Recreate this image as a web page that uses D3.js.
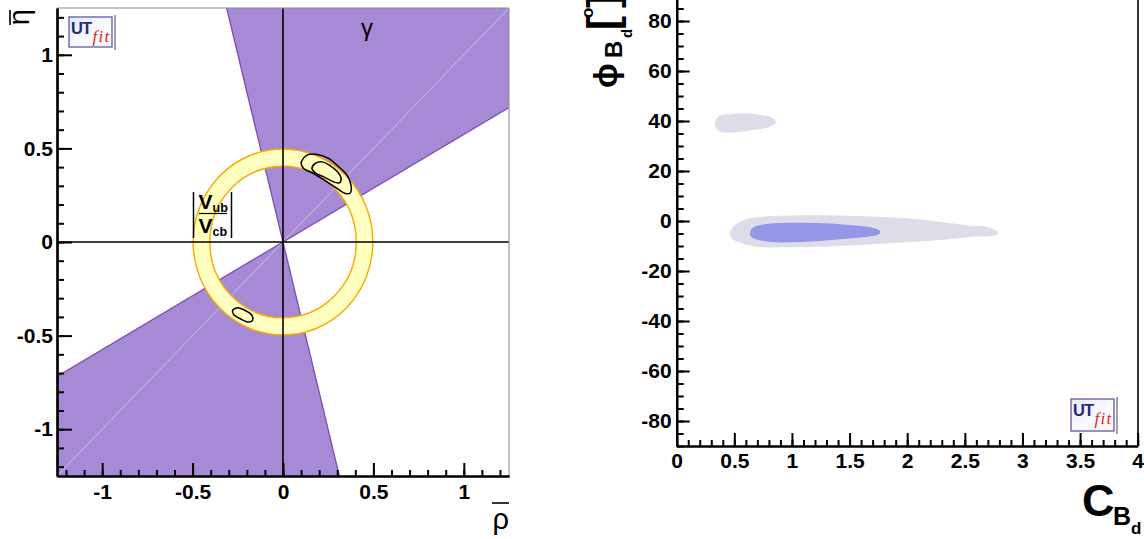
<!DOCTYPE html>
<html><head><meta charset="utf-8">
<script src="https://cdn.jsdelivr.net/npm/d3@7"></script>
<style>
body{margin:0;background:#fff}
svg{display:block}
text{font-family:"Liberation Sans",Arial,sans-serif}
</style>
</head><body>
<svg id="c" width="1144" height="539"></svg>
<script>
// ================= DATA =================
// Left panel: (rho-bar, eta-bar) plane
const utMajorTicks = [-1, -0.5, 0, 0.5, 1];
const utTickLabels = ["-1", "-0.5", "0", "0.5", "1"];
const utMinorTicks = [-12,-11,-10,-9,-8,-7,-6,-5,-4,-3,-2,-1,0,1,2,3,4,5,6,7,8,9,10,11,12].map(d => d / 10);
const gammaBandDeg = [29.9, 104.0];          // gamma constraint band (angles in degrees)
const vubVcbRing = [0.405, 0.497];           // |Vub/Vcb| ring radii
const fitContourOuter = [[0.100,0.423],[0.133,0.464],[0.188,0.468],[0.252,0.447],[0.308,0.402],[0.354,0.357],[0.376,0.304],[0.372,0.262],[0.345,0.259],[0.299,0.286],[0.243,0.321],[0.169,0.366],[0.114,0.393]];
const fitContourInner = [[0.160,0.393],[0.179,0.420],[0.216,0.428],[0.262,0.407],[0.302,0.375],[0.321,0.340],[0.313,0.316],[0.280,0.321],[0.225,0.348],[0.179,0.370]];
const fitContourLower = [[-0.279,-0.366],[-0.254,-0.352],[-0.209,-0.366],[-0.171,-0.393],[-0.168,-0.419],[-0.190,-0.428],[-0.236,-0.410],[-0.273,-0.387]];

// Right panel: (C_Bd, phi_Bd)
const cMajorTicks = [0, 0.5, 1, 1.5, 2, 2.5, 3, 3.5, 4];
const cTickLabels = ["0", "0.5", "1", "1.5", "2", "2.5", "3", "3.5", "4"];
const cMinorTicks = d3.range(0, 41).map(d => d / 10);
const phiMajorTicks = [-80, -60, -40, -20, 0, 20, 40, 60, 80];
const phiTickLabels = ["-80", "-60", "-40", "-20", "0", "20", "40", "60", "80"];
const phiMinorTicks = d3.range(-18, 19).map(d => d * 5);
const phi95Upper = [[0.332,39.1],[0.361,41.7],[0.462,42.8],[0.578,43.1],[0.694,42.7],[0.810,41.7],[0.862,39.7],[0.838,38.4],[0.766,37.1],[0.665,36.4],[0.549,35.7],[0.434,35.3],[0.361,36.1],[0.335,37.7]];
const phi95Lower = [[0.462,-4.9],[0.491,-2.3],[0.578,0.4],[0.752,1.7],[1.128,2.3],[1.562,2.0],[1.996,1.1],[2.285,-0.3],[2.574,-2.0],[2.660,-2.0],[2.762,-3.6],[2.791,-4.9],[2.748,-5.9],[2.574,-6.3],[2.285,-7.6],[1.851,-8.9],[1.417,-10.0],[0.983,-10.5],[0.694,-10.3],[0.549,-8.7],[0.477,-6.9]];
const phi68 = [[0.636,-4.7],[0.665,-2.5],[0.781,-1.2],[0.983,-0.7],[1.272,-0.9],[1.504,-1.6],[1.677,-2.5],[1.764,-3.9],[1.758,-5.2],[1.649,-6.3],[1.417,-7.3],[1.128,-8.3],[0.868,-8.5],[0.708,-7.6],[0.645,-6.3]];

// ================= DRAW =================
const svg = d3.select("#c");
const bold = "bold";

// ---------- left panel ----------
const xL = d3.scaleLinear().domain([-1.25, 1.25]).range([57, 509]);
const yL = d3.scaleLinear().domain([-1.25, 1.25]).range([476, 8]);
const L = svg.append("g");
L.append("clipPath").attr("id", "clipL").append("rect")
  .attr("x", 57).attr("y", 8).attr("width", 452).attr("height", 468);
const plotL = L.append("g").attr("clip-path", "url(#clipL)");

// gamma wedges
const R = 6;
function wedge(a1, a2) {
  const pts = [[0, 0]];
  for (let k = 0; k <= 8; k++) {
    const a = (a1 + (a2 - a1) * k / 8) * Math.PI / 180;
    pts.push([R * Math.cos(a), R * Math.sin(a)]);
  }
  return pts;
}
const lineL = d3.line().x(d => xL(d[0])).y(d => yL(d[1]));
[0, 180].forEach(off => {
  plotL.append("path").attr("d", lineL(wedge(gammaBandDeg[0] + off, gammaBandDeg[1] + off)) + "Z")
    .attr("fill", "#a68ad6");
});
// diagonal light line
plotL.append("path").attr("d", lineL([[-1.25, -1.25], [1.25, 1.25]]))
  .attr("stroke", "rgba(255,255,255,0.45)").attr("stroke-width", 1).attr("fill", "none");
// band boundaries
gammaBandDeg.forEach(a => {
  const r = a * Math.PI / 180;
  plotL.append("path").attr("d", lineL([[-R * Math.cos(r), -R * Math.sin(r)], [R * Math.cos(r), R * Math.sin(r)]]))
    .attr("stroke", "#7d4db5").attr("stroke-width", 1.3).attr("fill", "none");
});
// |Vub/Vcb| ring
function ellipsePath(r) {
  const cx = xL(0), cy = yL(0), rx = xL(r) - xL(0), ry = yL(0) - yL(r);
  return `M${cx + rx},${cy}A${rx},${ry} 0 1 0 ${cx - rx},${cy}A${rx},${ry} 0 1 0 ${cx + rx},${cy}Z`;
}
plotL.append("path").attr("d", ellipsePath(vubVcbRing[1]) + ellipsePath(vubVcbRing[0]))
  .attr("fill", "#ffffc0").attr("fill-rule", "evenodd")
  .attr("stroke", "#f8a800").attr("stroke-width", 1.4);
// zero lines
plotL.append("path").attr("d", lineL([[0, -1.25], [0, 1.25]])).attr("stroke", "#000").attr("stroke-width", 1.6);
plotL.append("path").attr("d", lineL([[-1.25, 0], [1.25, 0]])).attr("stroke", "#000").attr("stroke-width", 1.6);
// fit contours
const contourL = d3.line().x(d => xL(d[0])).y(d => yL(d[1])).curve(d3.curveCatmullRomClosed.alpha(0.5));
[fitContourOuter, fitContourInner, fitContourLower].forEach(c => {
  plotL.append("path").attr("d", contourL(c)).attr("fill", "none")
    .attr("stroke", "#000").attr("stroke-width", 1.5);
});
// frame (top/right thin grey)
L.append("path").attr("d", `M57,8H509V476`).attr("fill", "none").attr("stroke", "#8a8a8a").attr("stroke-width", 1);

// axes
function styleAxis(g) {
  g.select(".domain").attr("stroke", "#000").attr("stroke-width", 2.2);
  g.selectAll(".tick line").attr("stroke", "#000").attr("stroke-width", 2);
  g.selectAll("text").attr("font-size", 21).attr("font-weight", bold).attr("fill", "#000")
    .attr("font-family", "'Liberation Sans',Arial,sans-serif");
}
const gxLmin = L.append("g").attr("transform", "translate(0,476)")
  .call(d3.axisBottom(xL).tickValues(utMinorTicks).tickSize(-6).tickSizeOuter(0).tickFormat(""));
styleAxis(gxLmin);
const gxL = L.append("g").attr("transform", "translate(0,476)")
  .call(d3.axisBottom(xL).tickValues(utMajorTicks).tickSize(-13).tickSizeOuter(0).tickPadding(8)
    .tickFormat((d, i) => utTickLabels[i]));
styleAxis(gxL);
const gyLmin = L.append("g").attr("transform", "translate(57,0)")
  .call(d3.axisLeft(yL).tickValues(utMinorTicks).tickSize(-7).tickSizeOuter(0).tickFormat(""));
styleAxis(gyLmin);
const gyL = L.append("g").attr("transform", "translate(57,0)")
  .call(d3.axisLeft(yL).tickValues(utMajorTicks).tickSize(-15).tickSizeOuter(0).tickPadding(4)
    .tickFormat((d, i) => utTickLabels[i]));
styleAxis(gyL);

// axis titles
L.append("text").attr("transform", "translate(29,9) rotate(-90)").attr("text-anchor", "end")
  .attr("font-size", 29).text("η");
L.append("line").attr("x1", 10).attr("x2", 10).attr("y1", 10).attr("y2", 25).attr("stroke", "#000").attr("stroke-width", 1.6);
L.append("text").attr("x", 509).attr("y", 529).attr("text-anchor", "end").attr("font-size", 29).text("ρ");
L.append("line").attr("x1", 492).attr("x2", 509).attr("y1", 503).attr("y2", 503).attr("stroke", "#000").attr("stroke-width", 1.6);

// gamma label
L.append("text").attr("x", 361).attr("y", 36).attr("font-family", "'DejaVu Serif',serif").attr("font-size", 24).text("γ");
// |Vub/Vcb| label
const vl = L.append("g");
vl.append("line").attr("x1", 193.5).attr("x2", 193.5).attr("y1", 192).attr("y2", 238).attr("stroke", "#000").attr("stroke-width", 1.5);
vl.append("line").attr("x1", 231.5).attr("x2", 231.5).attr("y1", 192).attr("y2", 238).attr("stroke", "#000").attr("stroke-width", 1.5);
vl.append("line").attr("x1", 199).attr("x2", 227).attr("y1", 213.5).attr("y2", 213.5).attr("stroke", "#000").attr("stroke-width", 1.2);
vl.append("text").attr("x", 198.5).attr("y", 209).attr("font-size", 21).attr("font-weight", bold).text("V");
vl.append("text").attr("x", 212.5).attr("y", 212).attr("font-size", 12.5).attr("font-weight", bold).text("ub");
vl.append("text").attr("x", 198.5).attr("y", 232.5).attr("font-size", 21).attr("font-weight", bold).text("V");
vl.append("text").attr("x", 212.5).attr("y", 236).attr("font-size", 12.5).attr("font-weight", bold).text("cb");

// logo
function logo(g, x, y, w, h) {
  const lg = g.append("g");
  const gid = "lg" + Math.round(x);
  const grad = g.append("linearGradient").attr("id", gid).attr("x1", 0).attr("y1", 0).attr("x2", 1).attr("y2", 1);
  grad.append("stop").attr("offset", 0).attr("stop-color", "#e6e8fb");
  grad.append("stop").attr("offset", 0.6).attr("stop-color", "#fbfbff");
  grad.append("stop").attr("offset", 1).attr("stop-color", "#fff6e6");
  lg.append("rect").attr("x", x).attr("y", y).attr("width", w).attr("height", h)
    .attr("fill", `url(#${gid})`).attr("stroke", "#5b5ba6").attr("stroke-width", 1.3);
  const t = lg.append("text").attr("x", x + 2).attr("y", y + 17);
  t.append("tspan").attr("font-size", 16.5).attr("font-weight", bold).attr("letter-spacing", -1)
    .attr("fill", "#252a78").text("UT");
  t.append("tspan").attr("dx", 1.5).attr("dy", 8).attr("font-size", 17).attr("font-style", "italic")
    .attr("letter-spacing", 1.3)
    .attr("font-family", "'Liberation Serif',serif").attr("fill", "#e0202c").text("fit");
  lg.append("line").attr("x1", x + w + 3).attr("x2", x + w + 3).attr("y1", y - 2).attr("y2", y + h + 3)
    .attr("stroke", "#444").attr("stroke-width", 1);
}
logo(L, 69, 17, 43, 30);

// ---------- right panel ----------
const xR = d3.scaleLinear().domain([0, 4]).range([676.7, 1137.7]);
const yR = d3.scaleLinear().domain([-90, 90]).range([446, -4]);
const Rg = svg.append("g");
const contourR = d3.line().x(d => xR(d[0])).y(d => yR(d[1])).curve(d3.curveCatmullRomClosed.alpha(0.5));
[phi95Upper, phi95Lower].forEach(c => {
  Rg.append("path").attr("d", contourR(c)).attr("fill", "#dddde8");
});
Rg.append("path").attr("d", contourR(phi68)).attr("fill", "#9696e8");

// right frame line
Rg.append("line").attr("x1", 1138).attr("x2", 1138).attr("y1", -4).attr("y2", 446).attr("stroke", "#000").attr("stroke-width", 1.6);

const gxRmin = Rg.append("g").attr("transform", "translate(0,446)")
  .call(d3.axisBottom(xR).tickValues(cMinorTicks).tickSize(-6).tickSizeOuter(0).tickFormat(""));
styleAxis(gxRmin);
const gxR = Rg.append("g").attr("transform", "translate(0,446)")
  .call(d3.axisBottom(xR).tickValues(cMajorTicks).tickSize(-13).tickSizeOuter(0).tickPadding(7)
    .tickFormat((d, i) => cTickLabels[i]));
styleAxis(gxR);
const gyRmin = Rg.append("g").attr("transform", "translate(676.7,0)")
  .call(d3.axisLeft(yR).tickValues(phiMinorTicks).tickSize(-7).tickSizeOuter(0).tickFormat(""));
styleAxis(gyRmin);
const gyR = Rg.append("g").attr("transform", "translate(676.7,0)")
  .call(d3.axisLeft(yR).tickValues(phiMajorTicks).tickSize(-13).tickSizeOuter(0).tickPadding(5)
    .tickFormat((d, i) => phiTickLabels[i]));
styleAxis(gyR);

// x title C_Bd
Rg.append("text").attr("x", 1082).attr("y", 516).attr("font-size", 45).attr("font-weight", bold).text("C");
Rg.append("text").attr("x", 1113).attr("y", 525).attr("font-size", 25).attr("font-weight", bold).text("B");
Rg.append("text").attr("x", 1131).attr("y", 534).attr("font-size", 17).attr("font-weight", bold).text("d");

// y title phi_Bd [o]
function rtext(x, y, size, weight, str, fam) {
  const t = Rg.append("text").attr("transform", `translate(${x},${y}) rotate(-90)`)
    .attr("font-size", size).attr("font-weight", weight).text(str);
  if (fam) t.attr("font-family", fam);
}
rtext(617, 88, 33, bold, "ϕ", "'DejaVu Sans',sans-serif");
rtext(622, 58, 24, bold, "B");
rtext(632, 38, 15, bold, "d");
rtext(617, 30, 42, bold, "[");
rtext(593, 18, 17, bold, "o");
rtext(617, 8, 42, bold, "]");

logo(Rg, 1071, 399, 43, 32);
</script>
</body></html>
